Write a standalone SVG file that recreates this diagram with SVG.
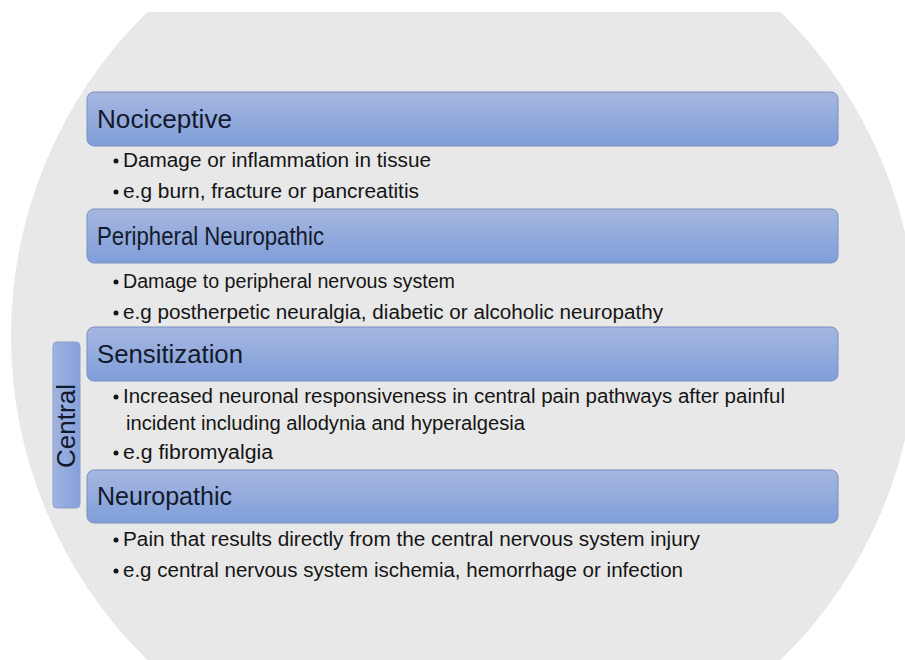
<svg xmlns="http://www.w3.org/2000/svg" width="905" height="660" viewBox="0 0 905 660">
<style>
.box{fill:url(#blue);stroke:#7a90c0;stroke-width:1}
.title{font-family:"Liberation Sans",Arial,sans-serif;font-size:26px;fill:#141a2b}
.txt{font-family:"Liberation Sans",Arial,sans-serif;font-size:20px;fill:#151515}
.dot{fill:#151515}
</style>
<defs>
<linearGradient id="blue" x1="0" y1="0" x2="0" y2="1">
<stop offset="0" stop-color="#a6b7e0"/>
<stop offset="1" stop-color="#7f9ed9"/>
</linearGradient>
<linearGradient id="blueh" x1="0" y1="0" x2="1" y2="0">
<stop offset="0" stop-color="#9fb3e0"/>
<stop offset="1" stop-color="#85a1da"/>
</linearGradient>
<clipPath id="clip"><rect x="0" y="12" width="905" height="648"/></clipPath>
</defs>
<rect width="905" height="660" fill="#ffffff"/>
<circle cx="464" cy="336" r="453" fill="#e8e8e8" clip-path="url(#clip)"/>
<g id="connectors"/>
<g id="central">
<rect x="53" y="342" width="27" height="166" rx="4" fill="url(#blueh)" stroke="#8aa0cc" stroke-width="1"/>
<text class="title" transform="translate(75,426) rotate(-90)" text-anchor="middle" textLength="84" lengthAdjust="spacingAndGlyphs">Central</text>
</g>
<g id="nociceptive">
<rect class="box" x="87" y="92" width="751" height="54" rx="7"/>
<text class="title" x="97" y="128" textLength="135" lengthAdjust="spacingAndGlyphs">Nociceptive</text>
<circle class="dot" cx="116" cy="161" r="2.5"/>
<text class="txt" x="123" y="167" textLength="308" lengthAdjust="spacingAndGlyphs">Damage or inflammation in tissue</text>
<circle class="dot" cx="116" cy="192" r="2.5"/>
<text class="txt" x="123" y="198" textLength="296" lengthAdjust="spacingAndGlyphs">e.g burn, fracture or pancreatitis</text>
</g>
<g id="peripheral">
<rect class="box" x="87" y="209" width="751" height="54" rx="7"/>
<text class="title" x="97" y="245" textLength="227" lengthAdjust="spacingAndGlyphs">Peripheral Neuropathic</text>
<circle class="dot" cx="116" cy="282" r="2.5"/>
<text class="txt" x="123" y="288" textLength="332" lengthAdjust="spacingAndGlyphs">Damage to peripheral nervous system</text>
<circle class="dot" cx="116" cy="313" r="2.5"/>
<text class="txt" x="123" y="319" textLength="540" lengthAdjust="spacingAndGlyphs">e.g postherpetic neuralgia, diabetic or alcoholic neuropathy</text>
</g>
<g id="sensitization">
<rect class="box" x="87" y="327" width="751" height="54" rx="7"/>
<text class="title" x="97" y="363" textLength="146" lengthAdjust="spacingAndGlyphs">Sensitization</text>
<circle class="dot" cx="116" cy="397" r="2.5"/>
<text class="txt" x="123" y="403" textLength="662" lengthAdjust="spacingAndGlyphs">Increased neuronal responsiveness in central pain pathways after painful</text>
<text class="txt" x="126" y="430" textLength="399" lengthAdjust="spacingAndGlyphs">incident including allodynia and hyperalgesia</text>
<circle class="dot" cx="116" cy="453" r="2.5"/>
<text class="txt" x="123" y="459" textLength="150" lengthAdjust="spacingAndGlyphs">e.g fibromyalgia</text>
</g>
<g id="neuropathic">
<rect class="box" x="87" y="470" width="751" height="53" rx="7"/>
<text class="title" x="97" y="505" textLength="135" lengthAdjust="spacingAndGlyphs">Neuropathic</text>
<circle class="dot" cx="116" cy="540" r="2.5"/>
<text class="txt" x="123" y="546" textLength="577" lengthAdjust="spacingAndGlyphs">Pain that results directly from the central nervous system injury</text>
<circle class="dot" cx="116" cy="571" r="2.5"/>
<text class="txt" x="123" y="577" textLength="560" lengthAdjust="spacingAndGlyphs">e.g central nervous system ischemia, hemorrhage or infection</text>
</g>
</svg>
